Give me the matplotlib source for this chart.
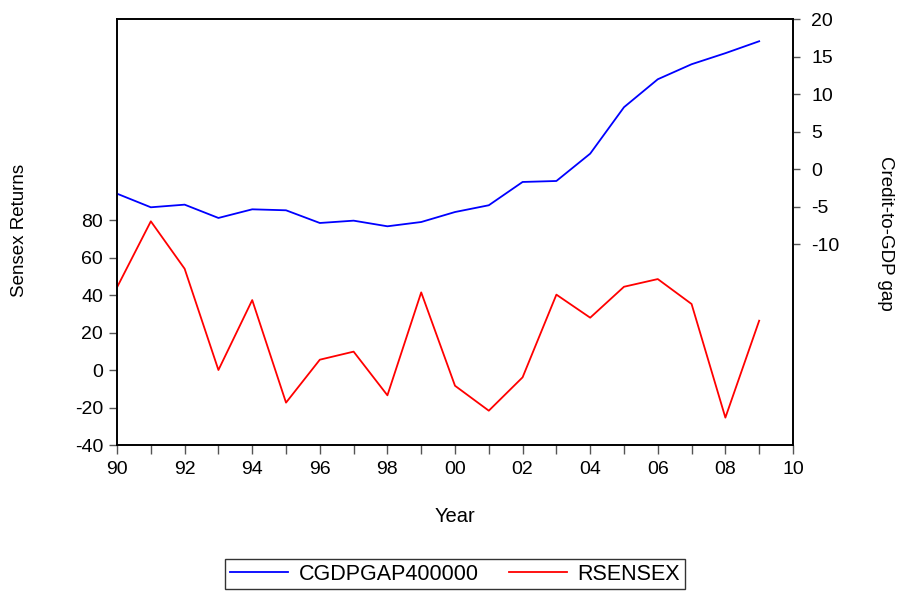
import numpy as np
import matplotlib.pyplot as plt
from matplotlib.ticker import MultipleLocator, FuncFormatter

plt.rcParams['font.family'] = ['Liberation Sans', 'DejaVu Sans']
plt.rcParams['axes.unicode_minus'] = False

years = np.arange(1990, 2010)
cgdpgap = [-3.25, -5.06, -4.71, -6.48, -5.33, -5.46, -7.15, -6.84, -7.59, -7.02,
           -5.69, -4.79, -1.69, -1.56, 2.08, 8.26, 11.98, 13.98, 15.45, 17.04]
rsensex = [44.1, 79.3, 54.0, 0.0, 37.3, -17.4, 5.5, 9.8, -13.5, 41.4,
           -8.4, -21.7, -3.9, 40.2, 27.9, 44.4, 48.5, 35.2, -25.4, 26.3]

left_ticks = [-40, -20, 0, 20, 40, 60, 80]
right_ticks = [-10, -5, 0, 5, 10, 15, 20]

fig = plt.figure(figsize=(9.01, 5.92), dpi=100)
ax = fig.add_axes([0.1299, 0.2483, 0.7502, 0.7196])
ax2 = ax.twinx()

tick_col = '#555555'
fs = 14

l2, = ax.plot(years, rsensex, color='#ff0000', lw=1.3)
l1, = ax2.plot(years, cgdpgap, color='#0000ff', lw=1.3)

ax.set_xlim(1990, 2010)
ax.set_ylim(-40, 187.2)
ax2.set_ylim(-36.7, 20)
ax.set_yticks(left_ticks)
ax2.set_yticks(right_ticks)

ax.xaxis.set_major_locator(MultipleLocator(2))
ax.xaxis.set_minor_locator(MultipleLocator(1))
ax.xaxis.set_major_formatter(FuncFormatter(lambda v, p: '%02d' % (int(round(v)) % 100)))

for a in (ax, ax2):
    a.tick_params(which='both', direction='out', color=tick_col, labelsize=fs, width=1,
                  length=6)
    for s in a.spines.values():
        s.set_linewidth(1.2)
        s.set_color('black')
ax.tick_params(axis='x', which='both', length=6.5, pad=5)
ax.tick_params(axis='y', pad=4)
ax2.tick_params(axis='y', length=5, pad=8)

fig.text(0.505, 0.128, 'Year', ha='center', va='center', fontsize=fs + 0.5)
fig.text(0.022, 0.61, 'Sensex Returns', rotation=90, ha='center', va='center', fontsize=fs - 0.5)
fig.text(0.983, 0.605, 'Credit-to-GDP gap', rotation=270, ha='center', va='center', fontsize=fs - 0.5)

leg = fig.legend([l1, l2], ['CGDPGAP400000', 'RSENSEX'], loc='lower center',
                 bbox_to_anchor=(0.505, -0.013), ncol=2, fancybox=False, frameon=True,
                 edgecolor='black', fontsize=fs + 1.5, handlelength=2.7,
                 borderpad=0.2, columnspacing=1.4, handletextpad=0.5)
leg.get_frame().set_linewidth(1.0)

fig.savefig('out.png', dpi=100)
